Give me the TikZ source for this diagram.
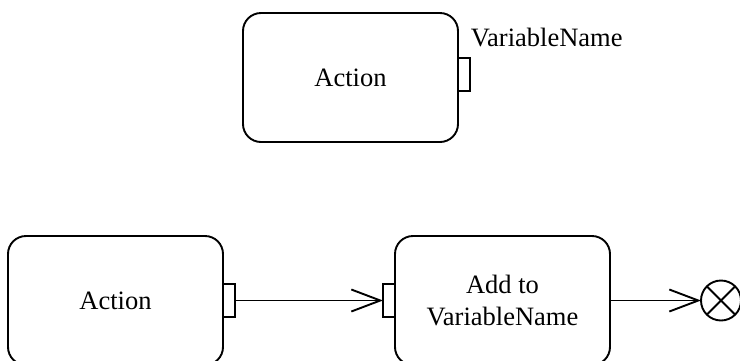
\documentclass[tikz,border=0pt]{standalone}
\usepackage{fontspec}
\setmainfont{Liberation Serif}
\usetikzlibrary{positioning,arrows.meta}

\begin{document}
\begin{tikzpicture}[
  x=1pt, y=-1pt,
  line width=1.9pt,
  every node/.style = {font=\fontsize{26.5}{32}\selectfont},
  act/.style     = {rectangle, rounded corners=18pt, draw, outer sep=0pt,
                    minimum width=215pt, minimum height=129pt,
                    align=center, inner sep=0pt},
  pinbox/.style  = {rectangle, draw, outer sep=0pt, minimum width=12pt,
                    minimum height=33pt, inner sep=0pt},
  final/.style   = {circle, draw, outer sep=0pt, minimum size=40pt, inner sep=0pt},
  arr/.style     = {-{Straight Barb[length=29pt,width=22pt]}},
]
\useasboundingbox (0,0) rectangle (740,360);
% top: action with output pin
\node[act] (act1) at (350.5,77.5) {Action};
\node[pinbox, anchor=west] (pin1) at ([yshift=3pt]act1.east) {};
\node[anchor=base west, inner sep=0pt] (var) at ([yshift=12pt]pin1.north east) {VariableName};
% bottom: action -> add to variable -> flow final
\node[act] (act2) at (115.5,300.5) {Action};
\node[act, right=172pt of act2] (add) {Add to\\VariableName};
\node[pinbox, anchor=west] (pinout) at (act2.east) {};
\node[pinbox, anchor=east] (pinin)  at (add.west) {};
\node[final, right=91pt of add] (ff) {};
\draw (ff.north west) -- (ff.south east);
\draw (ff.south west) -- (ff.north east);
\draw[arr] (pinout.east) -- (pinin.west);
\draw[arr] (add.east) -- (ff.west);
\end{tikzpicture}
\end{document}
